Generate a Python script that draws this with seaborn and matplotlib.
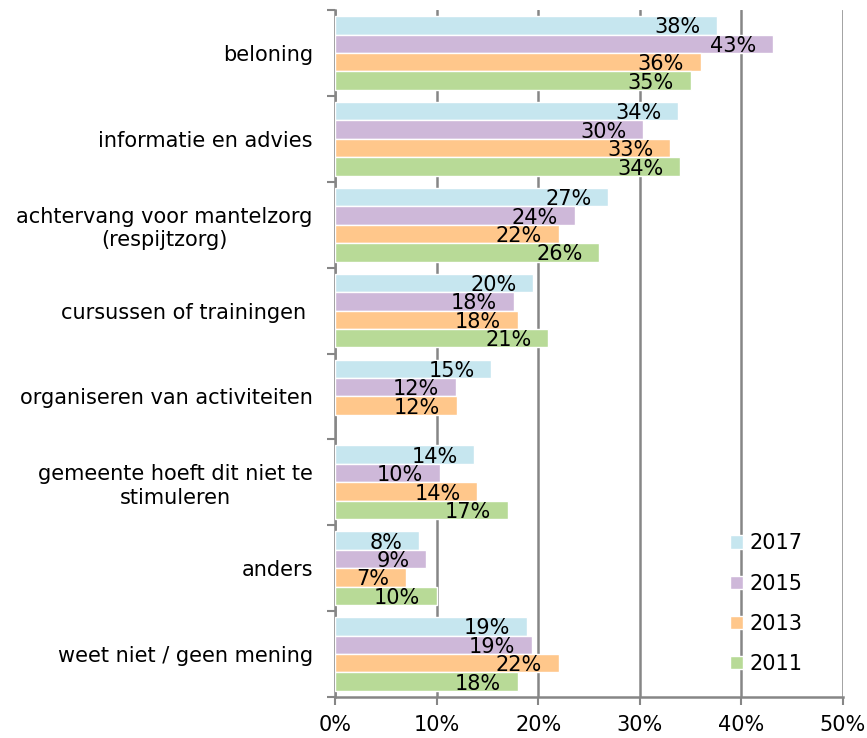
import matplotlib
matplotlib.use("Agg")
import matplotlib.pyplot as plt
import seaborn as sns
import pandas as pd
import numpy as np

categories = [
    "beloning",
    "informatie en advies",
    "achtervang voor mantelzorg\n(respijtzorg)",
    "cursussen of trainingen ",
    "organiseren van activiteiten",
    "gemeente hoeft dit niet te\nstimuleren",
    "anders",
    "weet niet / geen mening",
]
years = ["2017", "2015", "2013", "2011"]
v2017 = [37.6, 33.8, 26.9, 19.5, 15.4, 13.7, 8.3, 18.9]
v2015 = [43.1, 30.3, 23.6, 17.6, 11.9, 10.3, 9.0, 19.4]
v2013 = [36, 33, 22, 18, 12, 14, 7, 22]
v2011 = [35, 34, 26, 21, np.nan, 17, 10, 18]
colors = ["#C6E6EF", "#CEB8D9", "#FFC78B", "#B8DA97"]

rows = []
for yr, vals in zip(years, [v2017, v2015, v2013, v2011]):
    for c, v in zip(categories, vals):
        rows.append({"cat": c, "year": yr, "val": v})
df = pd.DataFrame(rows)

sns.set_style("white")
plt.rcParams["font.family"] = ["DejaVu Sans"]
plt.rcParams["text.color"] = "black"
plt.rcParams["xtick.color"] = "black"
plt.rcParams["ytick.color"] = "black"
FS = 15

fig = plt.figure(figsize=(8.67, 7.38), dpi=100)
ax = fig.add_axes([0.3864, 0.0556, 0.9723 - 0.3864, 0.9864 - 0.0556])

sns.barplot(data=df, y="cat", x="val", hue="year", hue_order=years,
            order=categories, palette=colors, orient="h", width=0.86,
            saturation=1, edgecolor="white", linewidth=1, ax=ax, zorder=3)

# value labels, right aligned a little inside the bar end
for cont in ax.containers:
    for p in cont.patches:
        w = p.get_width()
        if np.isnan(w) or w == 0:
            continue
        ax.annotate(f"{round(w):.0f}%", (w, p.get_y() + p.get_height() / 2),
                    xytext=(-12, -1.5), textcoords="offset points",
                    ha="right", va="center", fontsize=FS, color="black", zorder=4)

ax.set_xlim(0, 50)
ax.set_ylim(7.5, -0.5)
ax.set_xticks(range(0, 51, 10))
ax.set_xticklabels([f"{t}%" for t in range(0, 51, 10)], fontsize=FS)
ax.set_yticks(range(len(categories)))
ax.set_yticklabels(categories, fontsize=FS, multialignment="center")
ax.set_yticks(np.arange(-0.5, len(categories), 1), minor=True)
ax.tick_params(axis="y", which="both", left=True)
ax.tick_params(axis="x", which="both", bottom=True)
ax.tick_params(axis="y", which="major", length=0, pad=16)
ax.tick_params(axis="y", which="minor", length=6, width=1.5, color="#868686", direction="out")
ax.tick_params(axis="x", which="major", length=6, width=1.5, color="#868686", direction="out", pad=7)
ax.set_xlabel("")
ax.set_ylabel("")

ax.grid(axis="x", color="#868686", linewidth=1.8, zorder=0)
ax.set_axisbelow(True)
for s in ["top", "right"]:
    ax.spines[s].set_visible(False)
for s in ["left", "bottom"]:
    ax.spines[s].set_color("#868686")
    ax.spines[s].set_linewidth(1.8)

handles, labels = ax.get_legend_handles_labels()
ax.legend(handles, labels, loc="upper left", bbox_to_anchor=(720 / 867, 1 - 523 / 738),
          bbox_transform=fig.transFigure, frameon=False, fontsize=FS,
          handlelength=0.6, handleheight=0.6, handletextpad=0.3, labelspacing=0.97,
          borderpad=0)

fig.savefig("out.png", dpi=100)
